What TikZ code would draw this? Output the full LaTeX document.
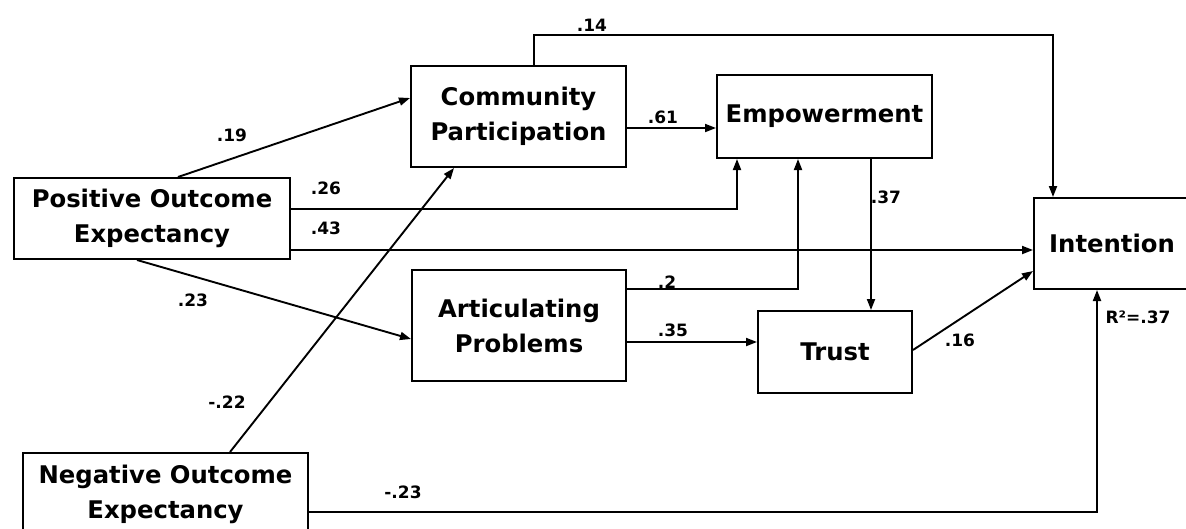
\documentclass[tikz,border=0pt]{standalone}
\usepackage{fontspec}
\setmainfont{DejaVu Sans}
\usetikzlibrary{arrows.meta,calc}
\begin{document}
\begin{tikzpicture}[x=1pt,y=-1pt,
  box/.style={draw, line width=2pt, rectangle, align=center,
    font=\fontsize{24.3}{35}\selectfont\bfseries, inner sep=0pt},
  conn/.style={line width=1.9pt, -{Triangle[length=11pt,width=8pt]}},
  lab/.style={font=\fontsize{17}{20}\selectfont\bfseries, inner sep=0pt}]
\useasboundingbox (0,0) rectangle (1186,528);
% boxes
\node[box, minimum width=276pt, minimum height=81pt]  (poe)   at (152,218.5) {Positive Outcome\\Expectancy};
\node[box, minimum width=285pt, minimum height=82pt]  (noe)   at (165.5,494) {Negative Outcome\\Expectancy};
\node[box, minimum width=215pt, minimum height=101pt] (cp)    at (518.5,116.5) {Community\\Participation};
\node[box, minimum width=215pt, minimum height=83pt]  (emp)   at (824.5,116.5) {Empowerment};
\node[box, minimum width=214pt, minimum height=111pt] (ap)    at (519,325.5) {Articulating\\Problems};
\node[box, minimum width=154pt, minimum height=82pt]  (trust) at (835,352) {Trust};
\node[box, minimum width=156pt, minimum height=91pt]  (int)   at (1112,243.5) {Intention};
% connectors
\draw[conn] ($(poe.north)+(26,0)$) -- ($(cp.west)+(0,-18.5)$);
\draw[conn] ($(poe.east)+(0,-9.5)$) -| ($(emp.south)+(-87.5,0)$);
\draw[conn] ($(poe.east)+(0,31.5)$) -- ($(int.west)+(0,6.5)$);
\draw[conn] ($(poe.south)+(-15,0)$) -- ($(ap.west)+(0,13.5)$);
\draw[conn] ($(noe.north)+(64.5,0)$) -- ($(cp.south)+(-64.5,0)$);
\draw[conn] ($(cp.east)+(0,11.5)$) -- ($(emp.west)+(0,11.5)$);
\draw[conn] ($(cp.north)+(15.5,0)$) -- ++(0,-30) -| ($(int.north)+(-59,0)$);
\draw[conn] ($(emp.south)+(46.5,0)$) -- ($(trust.north)+(36,0)$);
\draw[conn] ($(ap.east)+(0,-36.5)$) -| ($(emp.south)+(-26.5,0)$);
\draw[conn] ($(ap.east)+(0,16.5)$) -- ($(trust.west)+(0,-10)$);
\draw[conn] ($(trust.east)+(0,-2)$) -- ($(int.west)+(0,27.5)$);
\draw[conn] ($(noe.east)+(0,18)$) -| ($(int.south)+(-15,0)$);
% labels
\node[lab] (l14) at (592,25) {.14};
\node[lab] (l19) at (232,135) {.19};
\node[lab] (l61) at (663,117) {.61};
\node[lab] (l26) at (326,188) {.26};
\node[lab] (l43) at (326,228) {.43};
\node[lab] (l37) at (886,197) {.37};
\node[lab] (l2)  at (667,282) {.2};
\node[lab] (l23) at (193,300) {.23};
\node[lab] (l35) at (673,330) {.35};
\node[lab] (l16) at (960,340) {.16};
\node[lab] (lm22) at (227,402) {-.22};
\node[lab] (lm23) at (403,492) {-.23};
\node[lab] (r2) at (1138,317) {R²=.37};
\end{tikzpicture}
\end{document}
